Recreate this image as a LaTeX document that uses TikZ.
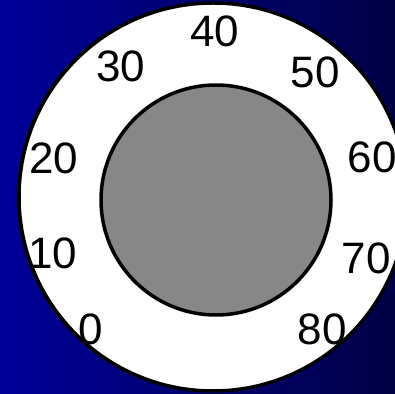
\documentclass[tikz,border=0pt]{standalone}
\usepackage{fontspec}
\setmainfont{Liberation Sans}
\usetikzlibrary{positioning}
\definecolor{bgLeft} {HTML}{000099}
\definecolor{bgMid}  {HTML}{00008E}
\definecolor{bgRight}{HTML}{000045}
\definecolor{dialFace}{HTML}{878787}
\tikzset{
  rim/.style={draw=black, line width=3.5pt},
  scalelbl/.style={font=\fontsize{44}{44}\selectfont, text=black, inner sep=0pt}
}
\begin{document}
\begin{tikzpicture}[x=1pt, y=1pt]
  \useasboundingbox (0,0) rectangle (395,393);
  \clip (0,0) rectangle (395,393);
  % background
  \shade[left color=bgLeft, middle color=bgMid, right color=bgRight] (0,0) rectangle (395,393);
  % dial
  \draw[rim, fill=white] (213,196) circle (194);
  \draw[rim, fill=dialFace] (216,193) circle (115);
  % scale labels
  \foreach \px/\py/\n in {91/64/0, 53/140/10, 54/235/20, 121/327/30, 215/362/40,
                          315/321/50, 372/236/60, 366/135/70, 322/64/80}{
    \node[scalelbl] (lbl\n) at (\px,\py) {\n};
  }
\end{tikzpicture}
\end{document}
